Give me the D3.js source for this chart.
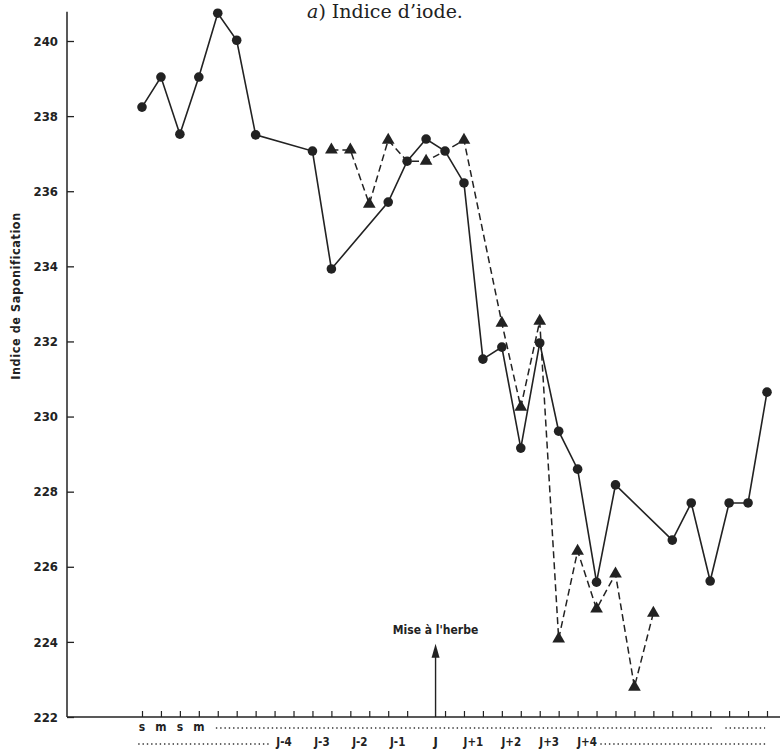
<!DOCTYPE html>
<html><head><meta charset="utf-8">
<script src="https://cdn.jsdelivr.net/npm/d3@7"></script>
<style>
body{margin:0;background:#fff;}
.cond{font-family:"Liberation Sans Narrow","DejaVu Sans Condensed","Arial Narrow",sans-serif;font-weight:bold;fill:#222;}
</style></head>
<body><svg id="c" width="780" height="750"></svg>
<script>
// Solid series (circles): x = tick index, y = value
const circleIdx = [0,1,2,3,4,5,6,9,10,13,14,15,16,17,18,19,20,21,22,23,24,25,28,29,30,31,32,33];
const circleVal = [238.24,239.04,237.52,239.04,240.74,240.02,237.50,237.07,233.93,235.71,236.80,237.39,237.07,236.22,231.53,231.85,229.16,231.96,229.61,228.60,225.59,228.18,226.71,227.70,225.62,227.70,227.70,230.65];
// Dashed series (triangles)
const triIdx = [10,11,12,13,14,15,16,17,19,20,21,22,23,24,25,26,27];
const triVal = [237.1,237.1,235.66,237.36,236.8,236.8,237.07,237.36,232.49,230.25,232.54,224.08,226.42,224.88,225.81,222.8,224.77];
const triNoMarker = [14,16];
// Axes
const yTicks = [222,224,226,228,230,232,234,236,238,240];
const xTickIdx = d3.range(0,34).filter(i => i !== 15);
const weekLabels = ["s","m","s","m"];
const dayLabels = ["J-4","J-3","J-2","J-1","J","J+1","J+2","J+3","J+4"];
const dayLabelIdx = [7.5,9.5,11.5,13.5,15.5,17.5,19.5,21.5,23.5];
const eventIdx = 15.5, eventTop = 223.95, eventLabel = "Mise à l'herbe";
const title = "Indice d\u2019iode.";
const yTitle = "Indice de Saponification";

const svg = d3.select("#c");
const x = d3.scaleLinear().domain([0,33]).range([142,767]);
const y = d3.scaleLinear().domain([222,240]).range([717,41]);
const x0 = 67;

// y axis
const ya = svg.append("g").attr("transform",`translate(${x0},0)`)
  .call(d3.axisLeft(y).tickValues(yTicks).tickSize(-7).tickPadding(9).tickSizeOuter(0));
ya.select(".domain").remove();
ya.selectAll(".tick line").attr("stroke","#222").attr("stroke-width",1.3);
ya.selectAll(".tick text").attr("class","cond").style("font-size","13px").attr("fill","#222");
svg.append("line").attr("x1",x0).attr("x2",x0).attr("y1",y(222)).attr("y2",y(240.78))
  .attr("stroke","#222").attr("stroke-width",1.5);

// x axis
const xa = svg.append("g").attr("transform",`translate(0,${y(222)})`)
  .call(d3.axisBottom(x).tickValues(xTickIdx).tickSize(-6).tickFormat("").tickSizeOuter(0));
xa.select(".domain").remove();
xa.selectAll(".tick line").attr("stroke","#222").attr("stroke-width",1.2);
svg.append("line").attr("x1",x0).attr("x2",780).attr("y1",y(222)).attr("y2",y(222))
  .attr("stroke","#222").attr("stroke-width",1.5);

// x labels row 1
svg.selectAll(".wk").data(weekLabels).join("text").attr("class","cond")
  .attr("x",(d,i)=>x(i)).attr("y",731).attr("text-anchor","middle").style("font-size","12px").text(d=>d);
// row 2
svg.selectAll(".dl").data(dayLabels).join("text").attr("class","cond")
  .attr("x",(d,i)=>x(dayLabelIdx[i])).attr("y",746).attr("text-anchor","middle")
  .style("font-size",d=>d==="J"?"13px":"11.5px").text(d=>d);
// dotted leaders
const dots = [[3.9,30.1,728],[30.8,32.9,728],[-0.2,6.7,744],[24.2,32.9,744]];
svg.selectAll(".dot").data(dots).join("line")
  .attr("x1",d=>x(d[0])).attr("x2",d=>x(d[1])).attr("y1",d=>d[2]).attr("y2",d=>d[2])
  .attr("stroke","#333").attr("stroke-width",1.6).attr("stroke-dasharray","1.4 2.9");

// y title
svg.append("text").attr("class","cond").attr("transform","translate(20,296) rotate(-90)")
  .attr("text-anchor","middle").style("font-size","12.5px").style("letter-spacing","0.6px").text(yTitle);

// title
const t = svg.append("text").attr("x",385).attr("y",18).attr("text-anchor","middle")
  .style("font-family","'DejaVu Serif','Liberation Serif',serif").style("font-size","19px").attr("fill","#222");
t.append("tspan").style("font-style","italic").text("a");
t.append("tspan").text(") "+title);

// event arrow
const ax = x(eventIdx);
svg.append("line").attr("x1",ax).attr("x2",ax).attr("y1",y(222)).attr("y2",y(eventTop)+10)
  .attr("stroke","#222").attr("stroke-width",1.4);
svg.append("path").attr("d",`M${ax},${y(eventTop)} L${ax-4},${y(eventTop)+14} L${ax+4},${y(eventTop)+14} Z`).attr("fill","#222");
svg.append("text").attr("class","cond").attr("x",ax).attr("y",y(eventTop)-10).attr("text-anchor","middle")
  .style("font-size","12px").text(eventLabel);

// dashed series
const tri = triIdx.map((d,i)=>({i:d,v:triVal[i]}));
const circ = circleIdx.map((d,i)=>({i:d,v:circleVal[i]}));
const line = d3.line().x(d=>x(d.i)).y(d=>y(d.v));
svg.append("path").datum(tri).attr("d",line).attr("fill","none").attr("stroke","#222")
  .attr("stroke-width",1.5).attr("stroke-dasharray","7 4");
svg.append("path").datum(circ).attr("d",line).attr("fill","none").attr("stroke","#222").attr("stroke-width",1.6);
svg.selectAll(".tri").data(tri.filter(d=>!triNoMarker.includes(d.i))).join("path")
  .attr("d",d3.symbol(d3.symbolTriangle,70)).attr("transform",d=>`translate(${x(d.i)},${y(d.v)})`).attr("fill","#222");
svg.selectAll(".circ").data(circ).join("circle")
  .attr("cx",d=>x(d.i)).attr("cy",d=>y(d.v)).attr("r",4.8).attr("fill","#222");
</script></body></html>
